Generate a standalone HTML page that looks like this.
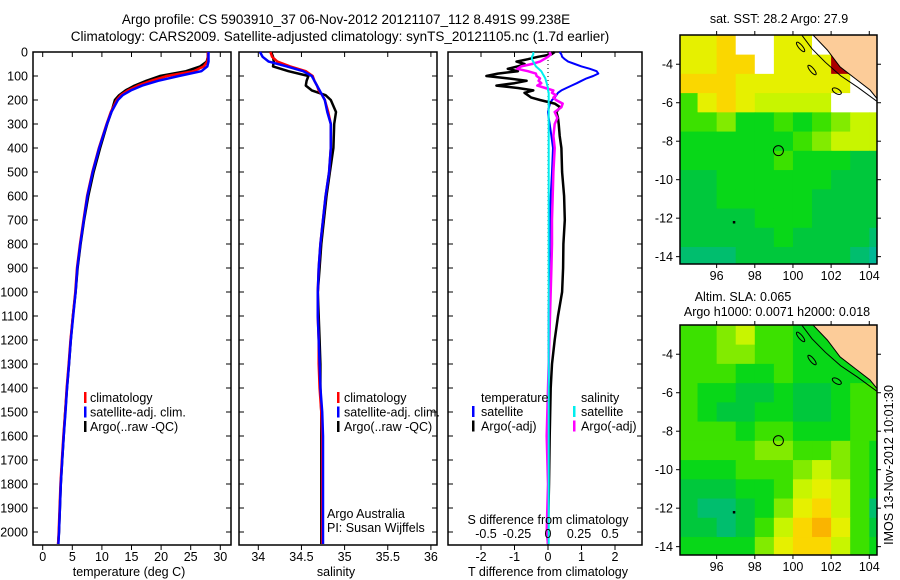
<!DOCTYPE html>
<html><head><meta charset="utf-8"><style>
body{margin:0;background:#fff;}
svg{display:block;font-family:"Liberation Sans",sans-serif;}
text{fill:#000;}
</style></head><body>
<svg id="s" width="900" height="580" viewBox="0 0 900 580">
<defs>
<clipPath id="c1"><rect x="680" y="35" width="197" height="229"/></clipPath>
<clipPath id="c2"><rect x="680" y="325" width="197" height="230"/></clipPath>
</defs>
<text x="346" y="24" font-size="13.5" text-anchor="middle">Argo profile: CS 5903910_37 06-Nov-2012 20121107_112 8.491S 99.238E</text>
<text x="340" y="41" font-size="13.5" text-anchor="middle">Climatology: CARS2009. Satellite-adjusted climatology: synTS_20121105.nc (1.7d earlier)</text>
<g id="g"></g>
</svg>
<script>
// ---- profile data ----
const depths=[0,20,40,60,80,100,120,140,160,180,200,250,300,400,500,600,700,800,900,1000,1100,1200,1300,1400,1500,1600,1700,1800,1900,2000,2050];
const tempClim=[27.9,27.9,27.8,27.2,25.5,21.0,18.3,16.1,14.4,13.2,12.5,11.5,10.8,9.5,8.4,7.5,6.9,6.3,5.8,5.5,5.1,4.7,4.4,4.05,3.8,3.5,3.25,3.0,2.85,2.7,2.6];
const tempSat=[28.0,28.0,28.0,27.8,26.8,23.0,19.5,16.8,14.9,13.5,12.7,11.6,10.85,9.55,8.45,7.55,6.95,6.35,5.85,5.55,5.15,4.75,4.45,4.1,3.85,3.55,3.3,3.05,2.9,2.75,2.65];
const tempArgo=[27.9,27.9,27.7,26.6,24.2,19.8,17.5,15.5,14.0,12.9,12.2,11.6,10.9,9.7,8.6,7.7,7.0,6.4,5.9,5.55,5.1,4.75,4.45,4.1,3.8,3.55,3.3,3.05,2.9,2.75,2.6];
const salClim=[34.14,34.16,34.22,34.37,34.55,34.63,34.65,34.68,34.70,34.74,34.77,34.81,34.84,34.84,34.82,34.78,34.75,34.72,34.70,34.69,34.69,34.70,34.70,34.71,34.73,34.74,34.74,34.74,34.74,34.74,34.74];
const salSat=[34.02,34.05,34.12,34.33,34.52,34.62,34.65,34.68,34.71,34.74,34.77,34.80,34.84,34.84,34.82,34.78,34.75,34.72,34.70,34.69,34.69,34.70,34.71,34.72,34.74,34.75,34.75,34.75,34.75,34.75,34.75];
const salArgo=[34.15,34.17,34.18,34.17,34.35,34.58,34.56,34.55,34.62,34.78,34.84,34.90,34.88,34.87,34.83,34.79,34.76,34.73,34.71,34.69,34.70,34.71,34.72,34.72,34.73,34.73,34.73,34.73,34.73,34.73,34.73];
// ---- difference data ----
const diffDepths=[0,10,20,30,40,50,60,70,80,90,100,110,120,130,140,150,160,170,180,190,200,215,230,250,275,300,350,400,500,600,700,800,900,1000,1100,1200,1300,1400,1600,1800,2000,2050];
const tDiffSat=[0.35,0.4,0.42,0.5,0.6,0.8,1.0,1.25,1.45,1.5,1.35,1.15,1.0,0.86,0.7,0.55,0.4,0.3,0.25,0.2,0.12,0.06,0.03,0.0,0.02,0.05,0.1,0.15,0.12,0.08,0.06,0.05,0.04,0.03,0.02,0.02,0.02,0.02,0.02,0.01,0.0,0.0];
const tDiffArgo=[0.2,0.1,-0.3,-0.6,-0.94,-0.7,-0.9,-1.2,-0.9,-1.5,-1.84,-1.2,-0.64,-1.0,-1.54,-0.9,-0.44,-0.7,-0.6,-0.5,-0.24,0.2,0.36,0.25,0.3,0.32,0.35,0.4,0.42,0.48,0.5,0.46,0.45,0.42,0.3,0.2,0.12,0.08,0.05,0.03,0.0,0.0];
const sDiffSat=[-0.11,-0.11,-0.12,-0.12,-0.11,-0.1,-0.09,-0.07,-0.05,-0.04,-0.03,-0.02,-0.015,-0.01,-0.005,0,0,0.005,0.005,0.005,0.005,0.005,0.005,0.005,0.005,0.005,0.005,0.005,0.005,0.005,0.005,0.005,0.005,0.005,0.005,0.005,0.005,0.005,0.005,0.005,0.005,0.005];
const sDiffArgo=[0.01,0.02,0.0,-0.03,-0.06,-0.12,-0.2,-0.23,-0.15,-0.09,-0.085,-0.06,-0.07,-0.05,-0.08,-0.02,0.04,0.03,0.06,0.04,0.06,0.11,0.1,0.05,0.07,0.05,0.04,0.05,0.04,0.035,0.03,0.03,0.025,0.02,0.015,0.01,0.005,0,-0.01,0,-0.01,0];
const depthTicks=[0,100,200,300,400,500,600,700,800,900,1000,1100,1200,1300,1400,1500,1600,1700,1800,1900,2000];
const tempTicks=[0,5,10,15,20,25,30];
const salTicks=[34,34.5,35,35.5,36];
const tDiffTicks=[-2,-1,0,1,2];
const sDiffTicks=[-0.5,-0.25,0,0.25,0.5];
// ---- map data (1-degree cells, rows from -2.5 southward, cols from 94E) ----
const sstGrid=["778ww77wwww","7788w777rww","888777777ww","47876666 ww","44533434566","33333345666","33333433322","22333333222","22333332222","22223332222","22222322221","11122222210"];
const slaGrid=["44564433LLL","4455443333L","44433433333","43322322344","43223322344","44434433344","44445544543","33344456543","22233467643","21123578641","22124689742","33335788643"];
const mapLon=[96,98,100,102,104];
const mapLat=[-4,-6,-8,-10,-12,-14];
const argoLon=99.238, argoLat=-8.491;

const NS='http://www.w3.org/2000/svg';
const G=document.getElementById('g');
function mk(tag,at,parent){const e=document.createElementNS(NS,tag);for(const k in at)e.setAttribute(k,at[k]);(parent||G).appendChild(e);return e;}
function txt(x,y,s,at,parent){const e=mk('text',Object.assign({x:x,y:y,'font-size':12.5},at||{}),parent);e.textContent=s;return e;}
const yD=d=>52+d*0.24;
const xT=t=>42.7+t*5.92;
const xS=s=>258.3+(s-34)*86.3;
const xTd=t=>548+t*33.5;
const xSd=s=>548+s*134;

function frame(x0,x1,name){
  const r=mk('rect',{x:x0,y:52,width:x1-x0,height:493,fill:'none',stroke:'#000','stroke-width':1.5});
  
  
  depthTicks.forEach(d=>{mk('line',{x1:x0,x2:x0+5,y1:yD(d),y2:yD(d),stroke:'#000'});mk('line',{x1:x1,x2:x1-5,y1:yD(d),y2:yD(d),stroke:'#000'});});
}
function xticks(vals,fx,name,labels){
  vals.forEach(v=>{const x=fx(v);mk('line',{x1:x,x2:x,y1:52,y2:57,stroke:'#000'});mk('line',{x1:x,x2:x,y1:545,y2:550,stroke:'#000'});
    if(labels){const t=txt(x,561,String(v),{'text-anchor':'middle'});}});
}
function line(xs,ds,fx,col,name,w){
  const p=xs.map((v,i)=>fx(v).toFixed(1)+','+yD(ds[i]).toFixed(1)).join(' ');
  const e=mk('polyline',{points:p,fill:'none',stroke:col,'stroke-width':w||2.5,'stroke-linejoin':'round'});
  
  
}
depthTicks.forEach(d=>{const t=txt(28,yD(d)+4.5,String(d),{'text-anchor':'end'});});
// panel 1
frame(33,231,'temperature-panel');
xticks(tempTicks,xT,'temperature-tick-label',true);
line(tempArgo,depths,xT,'#000','temp-argo-line');
line(tempClim,depths,xT,'#f00','temp-climatology-line');
line(tempSat,depths,xT,'#00f','temp-satellite-line');
txt(129,576,'temperature (deg C)',{'text-anchor':'middle',});
// panel 2
frame(239,437,'salinity-panel');
xticks(salTicks,xS,'salinity-tick-label',true);
line(salArgo,depths,xS,'#000','sal-argo-line');
line(salClim,depths,xS,'#f00','sal-climatology-line');
line(salSat,depths,xS,'#00f','sal-satellite-line');
txt(336,576,'salinity',{'text-anchor':'middle',});
txt(327,518,'Argo Australia',{});
txt(327,532,'PI: Susan Wijffels',{});
[[84,90],[337,344]].forEach((p,k)=>{
  [['#f00','climatology'],['#00f','satellite-adj. clim.'],['#000','Argo(..raw -QC)']].forEach((it,i)=>{
    const y=398+i*14.5;
    const m=mk('rect',{x:p[0],y:y-6,width:2.5,height:11,fill:it[0]});
    
    const t=txt(p[1],y+4,it[1]);
  });
});
// panel 3
frame(448,642,'difference-panel');
xticks(tDiffTicks,xTd,'tdiff-tick-label',true);
mk('line',{x1:548,x2:548,y1:52,y2:545,stroke:'#000','stroke-dasharray':'1 3'});
line(tDiffSat,diffDepths,xTd,'#00f','tdiff-satellite-line',2);
line(tDiffArgo,diffDepths,xTd,'#000','tdiff-argo-line',2.5);
line(sDiffArgo,diffDepths,xSd,'#f0f','sdiff-argo-line',2.5);
line(sDiffSat,diffDepths,xSd,'#0ee','sdiff-satellite-line',2);
sDiffTicks.forEach(v=>{const t=txt(548+v*124,538,String(v),{'text-anchor':'middle'});});
txt(548,524,'S difference from climatology',{'text-anchor':'middle',});
txt(548,576,'T difference from climatology',{'text-anchor':'middle',});
txt(481,402,'temperature',{});
txt(581,402,'salinity',{});
[[472,481,'#00f','satellite'],[472,481,'#000','Argo(-adj)'],[573,581,'#0ee','satellite'],[573,581,'#f0f','Argo(-adj)']].forEach((it,i)=>{
  const y=412+(i%2)*14.5;
  const m=mk('rect',{x:it[0],y:y-6,width:2.5,height:11,fill:it[2]});
  
  const t=txt(it[1],y+4,it[3]);
});
// ---- maps ----
const pal={'0':'#00b896','1':'#00be6e','2':'#00c83c','3':'#08d718','4':'#3ce100','5':'#82eb00','6':'#c8f500','7':'#e6f000','8':'#fad700','9':'#fab400','r':'#aa0000','w':'#ffffff','L':'#fccc99',' ':'#ffffff'};
function drawMap(grid,top,clip,name){
  const lx=l=>680+(l-94.08)*19.08;
  const ly=l=>top+(-2.48-l)*19.24;
  const g=mk('g',{'clip-path':'url(#'+clip+')'});
  
  
  grid.forEach((row,r)=>{for(let c=0;c<row.length;c++){
    const x0=lx(94+c),y0=ly(-2.5-r);
    const cell=mk('rect',{x:x0,y:y0,width:19.6,height:19.8,fill:pal[row[c]]},g);
    
    
  }});
  const coast=[[101.0,-2.3],[101.05,-2.48],[101.8,-3.26],[102.47,-4.14],[103.36,-4.82],[104.04,-5.34],[104.5,-5.9],[104.6,-2.3]];
  const land=mk('polygon',{points:coast.map(p=>lx(p[0])+','+ly(p[1])).join(' '),fill:'#fccc99',stroke:'#000','stroke-width':1},g);
  
  mk('polyline',{points:[[100.4,-2.4],[101.0,-3.2],[101.7,-3.9],[102.5,-4.6],[103.4,-5.2],[104.5,-6.0]].map(p=>lx(p[0])+','+ly(p[1])).join(' '),fill:'none',stroke:'#000','stroke-width':1},g);
  mk('ellipse',{cx:lx(100.4),cy:ly(-3.1),rx:2,ry:6,transform:`rotate(-40 ${lx(100.4)} ${ly(-3.1)})`,fill:'none',stroke:'#000'},g);
  mk('ellipse',{cx:lx(101.0),cy:ly(-4.3),rx:2,ry:6,transform:`rotate(-40 ${lx(101.0)} ${ly(-4.3)})`,fill:'none',stroke:'#000'},g);
  mk('ellipse',{cx:lx(102.3),cy:ly(-5.4),rx:5,ry:2.5,transform:`rotate(30 ${lx(102.3)} ${ly(-5.4)})`,fill:'none',stroke:'#000'},g);
  const mk1=mk('circle',{cx:lx(argoLon),cy:ly(argoLat),r:5,fill:'none',stroke:'#000','stroke-width':1});
  
  mk('rect',{x:lx(96.9)-1,y:ly(-12.2)-1,width:2.5,height:2.5,fill:'#000'});
  const f=mk('rect',{x:680,y:top,width:197,height:(clip=='c1'?229:230),fill:'none',stroke:'#000','stroke-width':1.5});
  
  const bot=top+(clip=='c1'?229:230);
  mapLon.forEach(l=>{const x=lx(l);mk('line',{x1:x,x2:x,y1:top,y2:top-4,stroke:'#000'});mk('line',{x1:x,x2:x,y1:bot,y2:bot+4,stroke:'#000'});
    const t=txt(x,bot+16,String(l),{'text-anchor':'middle'});});
  mapLat.forEach(l=>{const y=ly(l);mk('line',{x1:680,x2:676,y1:y,y2:y,stroke:'#000'});mk('line',{x1:877,x2:881,y1:y,y2:y,stroke:'#000'});
    const t=txt(673,y+4.5,String(l),{'text-anchor':'end'});});
}
drawMap(sstGrid,35,'c1','sst-map');
drawMap(slaGrid,325,'c2','sla-map');
txt(779,23,'sat. SST: 28.2 Argo: 27.9',{'text-anchor':'middle',});
txt(743,301,'Altim. SLA: 0.065',{'text-anchor':'middle',});
txt(777,316,'Argo h1000: 0.0071 h2000: 0.018',{'text-anchor':'middle',});
txt(0,0,'IMOS 13-Nov-2012 10:01:30',{transform:'translate(893,465) rotate(-90)','text-anchor':'middle',});
</script>
</body></html>
